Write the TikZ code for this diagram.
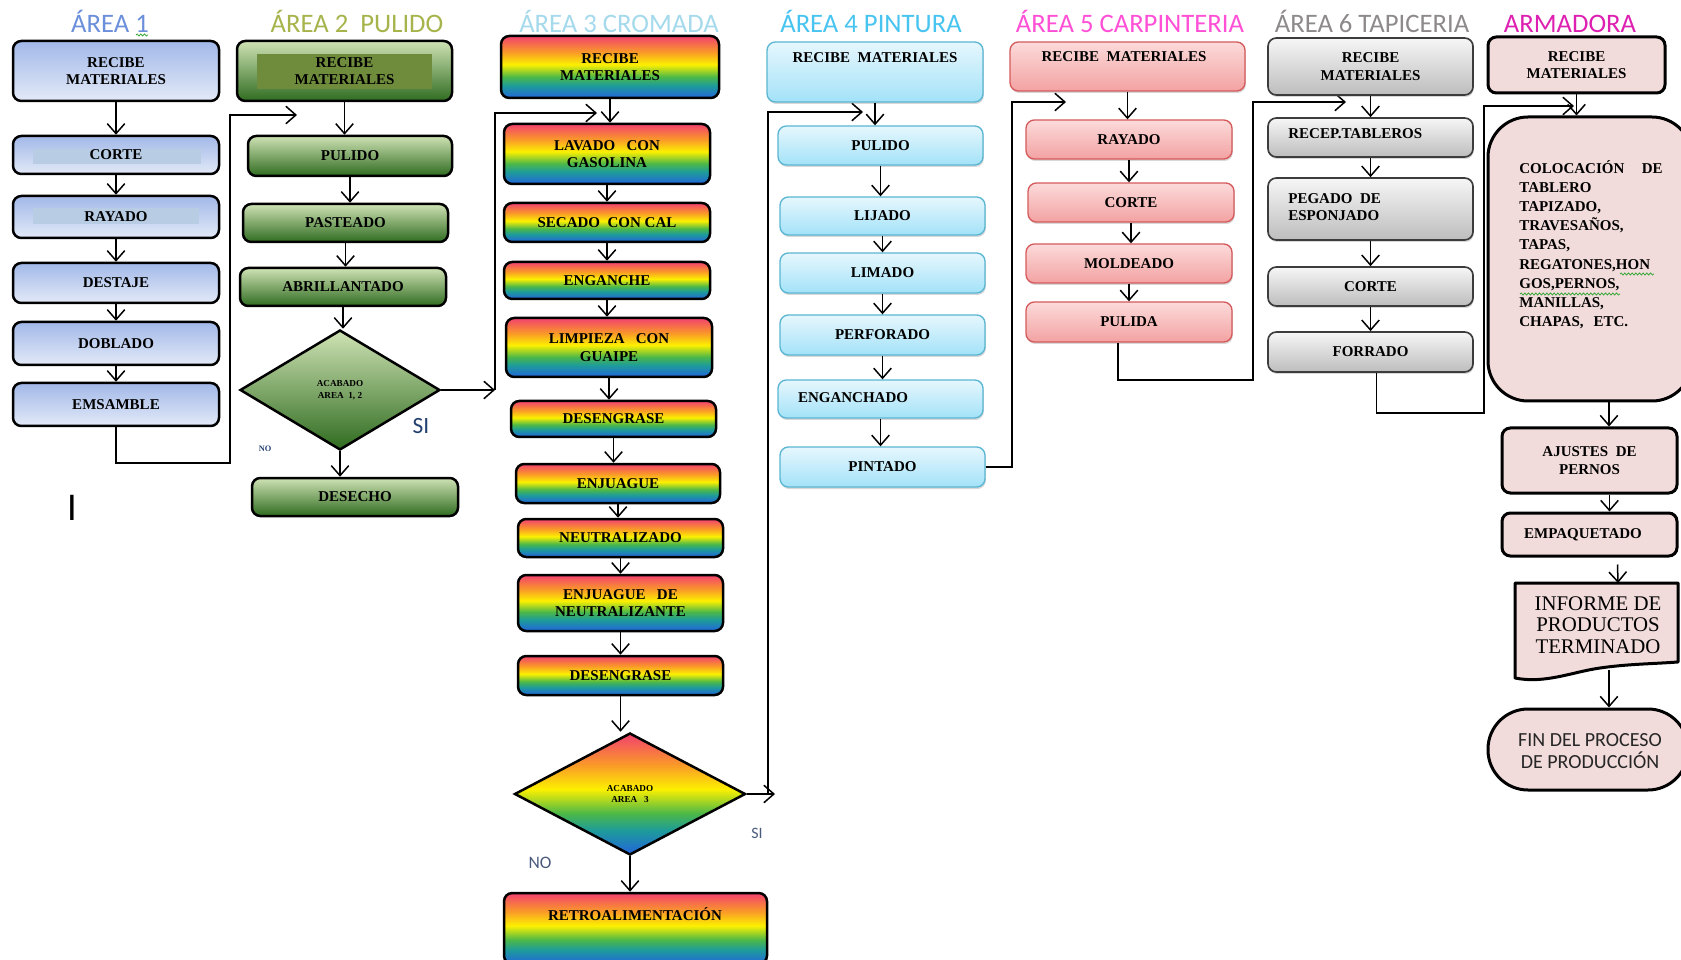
\documentclass[tikz,border=0pt]{standalone}
\usepackage{fontspec}
\setmainfont{Liberation Serif}
\newfontfamily\hdrfont{Carlito}
\newfontfamily\sansbar{Liberation Sans}
\usetikzlibrary{arrows.meta,shapes.geometric,shadows,calc,decorations.pathmorphing}

% heading colours
\definecolor{hOne}{HTML}{6B8FDA}
\definecolor{hTwo}{HTML}{A7B44C}
\definecolor{hThree}{HTML}{A5D9EC}
\definecolor{hFour}{HTML}{48C4F0}
\definecolor{hFive}{HTML}{FF50D6}
\definecolor{hSix}{HTML}{8E8A8C}
\definecolor{hSeven}{HTML}{DE20B2}
% box fills per area
\definecolor{oneTop}{HTML}{A2B8E8}
\definecolor{oneBot}{HTML}{E3EAF8}
\definecolor{oneBand}{HTML}{B8CCE4}
\definecolor{twoTop}{HTML}{CFE2B4}
\definecolor{twoBot}{HTML}{2F6C20}
\definecolor{twoBand}{HTML}{6F8C3C}
\definecolor{rbRed}{HTML}{F2406E}
\definecolor{rbOrange}{HTML}{FA9A28}
\definecolor{rbYellow}{HTML}{FCF000}
\definecolor{rbGreen}{HTML}{4CB848}
\definecolor{rbTeal}{HTML}{1E9C9A}
\definecolor{rbBlue}{HTML}{2264DC}
\definecolor{fourTop}{HTML}{E6F7FD}
\definecolor{fourBot}{HTML}{A3E2F8}
\definecolor{fourLine}{HTML}{5AB6D2}
\definecolor{fiveTop}{HTML}{FCDADA}
\definecolor{fiveBot}{HTML}{F3A2A2}
\definecolor{fiveLine}{HTML}{D55A5C}
\definecolor{sixTop}{HTML}{F6F6F6}
\definecolor{sixBot}{HTML}{BDBDBD}
\definecolor{sixLine}{HTML}{3C3C3C}
\definecolor{sevenFill}{HTML}{F2DCDB}
\definecolor{labelBlue}{HTML}{23406E}
\definecolor{labelGrey}{HTML}{4A5A7C}
\definecolor{squiggle}{HTML}{3CAA3C}

\pgfdeclareverticalshading{rainbow}{100bp}{color(0bp)=(rbBlue); color(25bp)=(rbBlue); color(35bp)=(rbTeal); color(42bp)=(rbGreen); color(52bp)=(rbYellow); color(62bp)=(rbOrange); color(75bp)=(rbRed); color(100bp)=(rbRed)}

\newcommand\bxfont{\bfseries\fontsize{9}{10.5}\selectfont}
\newcommand\dfont{\bfseries\fontsize{5.5}{7}\selectfont}

% box by its corners: name, style, x1, y1, x2, y2, text
\newcommand\bx[7]{%
  \node[#2, minimum width={(#5-#3)*0.6pt}, minimum height={(#6-#4)*0.6pt}]
    (#1) at ({(#3+#5)/2},{(#4+#6)/2}) {#7};}
\newcommand\vdown[2]{\draw[ar] (#1.south) -- (#1.south |- #2.north);}

\tikzset{
  txt/.style={font=\bxfont, align=center, inner sep=0pt},
  stepbase/.style={rectangle, rounded corners=5pt, inner sep=1pt, align=center, font=\bxfont},
  boxA/.style={stepbase, draw=black, line width=1.5pt, top color=oneTop, bottom color=oneBot},
  boxB/.style={stepbase, draw=black, line width=1.5pt, top color=twoTop, bottom color=twoBot},
  boxC/.style={stepbase, draw=black, line width=1.5pt, shading=rainbow},
  soft/.style={drop shadow={shadow xshift=0.5pt, shadow yshift=-1.2pt, opacity=0.3}},
  boxD/.style={stepbase, soft, draw=fourLine, line width=0.8pt, top color=fourTop, bottom color=fourBot},
  boxE/.style={stepbase, soft, draw=fiveLine, line width=0.8pt, top color=fiveTop, bottom color=fiveBot},
  boxF/.style={stepbase, soft, draw=sixLine, line width=1pt, top color=sixTop, bottom color=sixBot},
  boxG/.style={stepbase, draw=black, line width=1.8pt, fill=sevenFill},
  decA/.style={diamond, draw=black, line width=1.5pt, inner sep=0pt, align=center, font=\dfont},
  hdr/.style={font=\hdrfont\fontsize{16}{16}\selectfont, anchor=base, inner sep=0pt},
  ar/.style={line width=0.9pt, -{Straight Barb[length=6pt,width=10.5pt,line width=0.9pt]}},
  ln/.style={line width=0.9pt},
  wavy/.style={squiggle, line width=0.5pt, decorate, decoration={snake, amplitude=0.6pt, segment length=2.2pt}},
}

\begin{document}
\begin{tikzpicture}[x=0.6pt, y=-0.6pt]
\clip (0,0) rectangle (1681,960);
\fill[white] (0,0) rectangle (1681,960);

% ---------- headings ----------
\node[hdr, text=hOne]   (h1) at (110,33)  {ÁREA 1};
\node[hdr, text=hTwo]   (h2) at (357,33)  {ÁREA 2\ \ PULIDO};
\node[hdr, text=hThree] (h3) at (619,33)  {ÁREA 3 CROMADA};
\node[hdr, text=hFour]  (h4) at (871,33)  {ÁREA 4 PINTURA};
\node[hdr, text=hFive]  (h5) at (1130,33) {ÁREA 5 CARPINTERIA};
\node[hdr, text=hSix]   (h6) at (1372,33) {ÁREA 6 TAPICERIA};
\node[hdr, text=hSeven] (h7) at (1570,33) {ARMADORA};
\draw[wavy] (136,35) -- (148,35);

% ---------- area 1 ----------
\bx{a1r}{boxA}{13}{41}{219}{101}{RECIBE\\MATERIALES}
\bx{a1c}{boxA}{13}{136}{219}{174}{}
\fill[oneBand] (33,149) rectangle (201,164);
\node[txt] (a1ct) at (a1c) {CORTE};
\bx{a1y}{boxA}{13}{196}{219}{238}{}
\fill[oneBand] (33,208) rectangle (199,224);
\node[txt] (a1yt) at (a1y) {RAYADO};
\bx{a1d}{boxA}{13}{263}{219}{303}{DESTAJE}
\bx{a1b}{boxA}{13}{322}{219}{365}{DOBLADO}
\bx{a1e}{boxA}{13}{383}{219}{426}{EMSAMBLE}
\vdown{a1r}{a1c}
\vdown{a1c}{a1y}
\vdown{a1y}{a1d}
\vdown{a1d}{a1b}
\vdown{a1b}{a1e}
\coordinate (k1a) at (230,463);
\coordinate (k1b) at (297,115);
\draw[ar] (a1e.south) |- (k1a) |- (k1b);
\node[font=\sansbar\fontsize{22}{22}\selectfont, inner sep=0pt] (cur) at (72,508) {I};

% ---------- area 2 ----------
\bx{a2r}{boxB}{237}{41}{452}{101}{}
\fill[twoBand] (257,54) rectangle (432,89);
\node[txt] (a2rt) at (a2r) {RECIBE\\MATERIALES};
\bx{a2p}{boxB}{248}{136}{452}{176}{PULIDO}
\bx{a2s}{boxB}{243}{204}{448}{242}{PASTEADO}
\bx{a2a}{boxB}{240}{268}{446}{306}{ABRILLANTADO}
\node[decA, top color=twoTop, bottom color=twoBot, minimum width=120pt, minimum height=72pt] (a2q) at (340,390) {ACABADO\\AREA\ \ 1, 2};
\bx{a2x}{boxB}{252}{478}{458}{516}{DESECHO}
\vdown{a2r}{a2p}
\vdown{a2p}{a2s}
\vdown{a2s}{a2a}
\vdown{a2a}{a2q}
\vdown{a2q}{a2x}
\node[font=\hdrfont\fontsize{14}{14}\selectfont, text=labelBlue, inner sep=0pt] (si2) at (421,426) {SI};
\node[font=\bfseries\fontsize{5}{5}\selectfont, text=labelBlue, inner sep=0pt] (no2) at (265,449) {NO};
\coordinate (k2a) at (495,390);
\coordinate (k2b) at (597,113);
\draw[ar] (a2q.east) -- (k2a);
\draw[ar] (k2a) |- (k2b);

% ---------- area 3 ----------
\bx{a3r}{boxC}{501}{36}{719}{98}{RECIBE\\MATERIALES}
\bx{a3l}{boxC}{504}{124}{710}{184}{LAVADO\ \ \ CON\\GASOLINA}
\bx{a3s}{boxC}{504}{203}{710}{242}{SECADO\ \ CON CAL}
\bx{a3e}{boxC}{504}{262}{710}{299}{ENGANCHE}
\bx{a3g}{boxC}{506}{318}{712}{377}{LIMPIEZA\ \ \ CON\\GUAIPE}
\bx{a3d}{boxC}{511}{401}{716}{437}{DESENGRASE}
\bx{a3j}{boxC}{516}{464}{720}{503}{ENJUAGUE}
\bx{a3n}{boxC}{518}{519}{723}{557}{NEUTRALIZADO}
\bx{a3k}{boxC}{518}{575}{723}{631}{ENJUAGUE\ \ \ DE\\NEUTRALIZANTE}
\bx{a3f}{boxC}{518}{656}{723}{695}{DESENGRASE}
\node[decA, shading=rainbow, minimum width=138.6pt, minimum height=73.2pt] (a3q) at (630,794) {ACABADO\\AREA\ \ \ 3};
\bx{a3x}{boxC}{504}{893}{767}{964}{}
\node[txt] (a3xt) at (635,914) {RETROALIMENTACIÓN};
\vdown{a3r}{a3l}
\vdown{a3l}{a3s}
\vdown{a3s}{a3e}
\vdown{a3e}{a3g}
\vdown{a3g}{a3d}
\vdown{a3d}{a3j}
\vdown{a3j}{a3n}
\vdown{a3n}{a3k}
\vdown{a3k}{a3f}
\vdown{a3f}{a3q}
\vdown{a3q}{a3x}
\node[font=\hdrfont\fontsize{9.5}{9.5}\selectfont, text=labelGrey, inner sep=0pt] (si3) at (757,833) {SI};
\node[font=\hdrfont\fontsize{10.5}{10.5}\selectfont, text=labelGrey, inner sep=0pt] (no3) at (540,863) {NO};
\coordinate (k3a) at (775,794);
\coordinate (k3v) at (768,794);
\coordinate (k3b) at (863,112);
\draw[ar] (a3q.east) -- (k3a);
\draw[ar] (k3v) |- (k3b);

% ---------- area 4 ----------
\bx{a4r}{boxD}{767}{42}{983}{102}{}
\node[txt] (a4rt) at (875,58) {RECIBE\ \ MATERIALES};
\bx{a4p}{boxD}{778}{126}{983}{165}{PULIDO}
\bx{a4l}{boxD}{780}{197}{985}{235}{LIJADO}
\bx{a4m}{boxD}{780}{253}{985}{293}{LIMADO}
\bx{a4f}{boxD}{780}{315}{985}{355}{PERFORADO}
\bx{a4e}{boxD}{778}{380}{983}{418}{}
\node[txt] (a4et) at (853,398) {ENGANCHADO};
\bx{a4t}{boxD}{780}{447}{985}{487}{PINTADO}
\vdown{a4r}{a4p}
\vdown{a4p}{a4l}
\vdown{a4l}{a4m}
\vdown{a4m}{a4f}
\vdown{a4f}{a4e}
\vdown{a4e}{a4t}
\coordinate (k4a) at (1012,102);
\coordinate (k4b) at (1066,102);
\draw[ar] (a4t.east) -| (k4a) -- (k4b);

% ---------- area 5 ----------
\bx{a5r}{boxE}{1010}{42}{1245}{91}{}
\node[txt] (a5rt) at (1124,57) {RECIBE\ \ MATERIALES};
\bx{a5y}{boxE}{1026}{120}{1232}{159}{RAYADO}
\bx{a5c}{boxE}{1028}{183}{1234}{222}{CORTE}
\bx{a5m}{boxE}{1026}{244}{1232}{283}{MOLDEADO}
\bx{a5p}{boxE}{1026}{302}{1232}{342}{PULIDA}
\vdown{a5r}{a5y}
\vdown{a5y}{a5c}
\vdown{a5c}{a5m}
\vdown{a5m}{a5p}
\coordinate (k5a) at (1253,380);
\coordinate (k5b) at (1346,102);
\draw[ar] ($(a5p.south)+(-11,0)$) |- (k5a) |- (k5b);

% ---------- area 6 ----------
\bx{a6r}{boxF}{1268}{38}{1473}{95}{RECIBE\\MATERIALES}
\bx{a6t}{boxF}{1268}{118}{1473}{157}{}
\node[txt, anchor=west] (a6tt) at (1288,134) {RECEP.TABLEROS};
\bx{a6p}{boxF}{1268}{178}{1473}{240}{}
\node[txt, anchor=west, align=left] (a6pt) at (1288,207) {PEGADO\ \ DE\\ESPONJADO};
\bx{a6c}{boxF}{1268}{267}{1473}{306}{CORTE}
\bx{a6f}{boxF}{1268}{332}{1473}{372}{FORRADO}
\vdown{a6r}{a6t}
\vdown{a6t}{a6p}
\vdown{a6p}{a6c}
\vdown{a6c}{a6f}
\coordinate (k6a) at (1484,413);
\coordinate (k6b) at (1574,106);
\draw[ar] ($(a6f.south)+(6,0)$) |- (k6a) |- (k6b);

% ---------- armadora ----------
\bx{a7r}{boxG}{1488}{37}{1665}{93}{RECIBE\\MATERIALES}
\bx{a7b}{boxG, rounded corners=24pt}{1488}{117}{1692}{401}{}
\node[txt, anchor=north west, align=left, text width=86pt, font=\bfseries\fontsize{9}{11.5}\selectfont] (a7bt) at (1519,160)
  {COLOCACIÓN\hfill DE\\TABLERO\\TAPIZADO,\\TRAVESAÑOS,\\TAPAS,\\REGATONES,HON\\GOS,PERNOS,\\MANILLAS,\\CHAPAS,\ \ ETC.};
\draw[wavy] (1620,274) -- (1654,274);
\draw[wavy] (1520,294) -- (1620,294);
\bx{a7j}{boxG}{1502}{428}{1677}{493}{AJUSTES\ \ DE\\PERNOS}
\bx{a7e}{boxG}{1502}{513}{1677}{556}{}
\node[txt] (a7et) at (1583,535) {EMPAQUETADO};
\draw[draw=black, line width=1.8pt, fill=sevenFill, line join=round]
  (1515,583) -- (1678,583) -- (1678,662)
  .. controls (1650,664) and (1628,664) .. (1600,668)
  .. controls (1572,672) and (1545,684) .. (1515,678) -- cycle;
\node[font=\fontsize{12.5}{13}\selectfont, align=center, inner sep=0pt] (a7i) at (1598,625) {INFORME DE\\PRODUCTOS\\TERMINADO};
\coordinate (a7itop) at (1618,583);
\coordinate (a7ibot) at (1609,670);
\bx{a7z}{boxG, rounded corners=24pt}{1488}{709}{1688}{790}{}
\node[font=\hdrfont\fontsize{12}{13}\selectfont, align=center, inner sep=0pt, text=black!85] (a7zt) at (1590,751) {FIN DEL PROCESO\\DE PRODUCCIÓN};
\draw[ar] (a7r.south) -- (a7r.south |- a7b.north);
\draw[ar] ($(a7b.south)+(19,0)$) -- ($(a7b.south |- a7j.north)+(19,0)$);
\draw[ar] ($(a7j.south)+(20,0)$) -- ($(a7j.south |- a7e.north)+(20,0)$);
\draw[ar] ($(a7e.south)+(28,7)$) -- (a7itop);
\draw[ar] (a7ibot) -- (a7ibot |- a7z.north);
\end{tikzpicture}
\end{document}
